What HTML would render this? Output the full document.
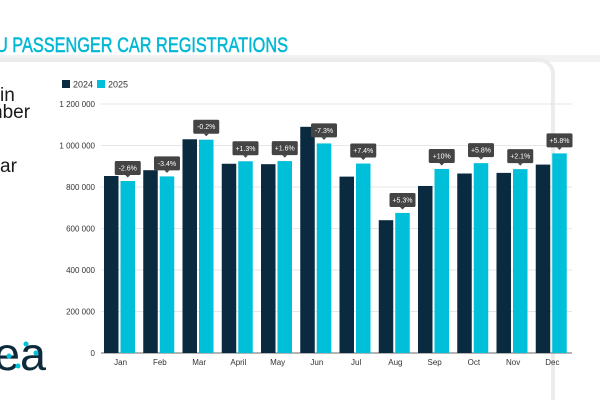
<!DOCTYPE html>
<html><head><meta charset="utf-8"><style>
html,body{margin:0;padding:0;width:600px;height:400px;overflow:hidden;background:#fff;font-family:"Liberation Sans",sans-serif}
svg{position:absolute;left:0;top:0}
</style></head><body>
<svg id="c" width="600" height="400">
<rect x="0" y="55" width="600" height="7" fill="#f2f2f2"/>
<rect x="-20" y="60" width="573" height="360" rx="14" fill="#fff" stroke="#ececec" stroke-width="4"/>
<text x="-4" y="52" font-size="21" fill="#00b8d4" stroke="#00b8d4" stroke-width="0.5" textLength="292" lengthAdjust="spacingAndGlyphs">U PASSENGER CAR REGISTRATIONS</text>
<text x="0" y="101" font-size="19" fill="#1a1a1a">in</text>
<text x="-8" y="118" font-size="19" fill="#1a1a1a">nber</text>
<text x="0" y="172" font-size="19" fill="#1a1a1a">ar</text>
<g>
<text x="-6" y="370" font-size="46" fill="#0d2a3d" textLength="52" lengthAdjust="spacingAndGlyphs">ea</text>
<circle cx="9" cy="356" r="2.5" fill="#00c2dd"/><circle cx="18" cy="366" r="2.5" fill="#00c2dd"/>
<circle cx="26" cy="344" r="2.5" fill="#00c2dd"/><circle cx="36" cy="353" r="2.5" fill="#00c2dd"/>
</g>
<rect x="62" y="80" width="8" height="8" fill="#0a2a3f"/>
<text x="73" y="87.5" font-size="9" fill="#333">2024</text>
<rect x="97" y="80" width="8" height="8" fill="#00bfd8"/>
<text x="108" y="87.5" font-size="9" fill="#333">2025</text>
<g id="grid"></g><g id="bars"></g><g id="labels"></g>
</svg>
<script>
const months=["Jan","Feb","Mar","April","May","Jun","Jul","Aug","Sep","Oct","Nov","Dec"];
const v2024=[853000,881000,1030000,912000,910000,1090000,850000,640000,805000,865000,868000,908000];
const v2025=[829000,851000,1028000,924000,925000,1010000,913000,675000,887000,915000,886000,962000];
const changes=["-2.6%","-3.4%","-0.2%","+1.3%","+1.6%","-7.3%","+7.4%","+5.3%","+10%","+5.8%","+2.1%","+5.8%"];
const ticks=[0,200000,400000,600000,800000,1000000,1200000];
const tickLabels=["0","200 000","400 000","600 000","800 000","1 000 000","1 200 000"];
const NS="http://www.w3.org/2000/svg";
const x0=101,x1=572,y0=353,y1=104,maxV=1200000;
const y=v=>y0-(v/maxV)*(y0-y1);
const gw=(x1-x0)/12;
const bx=i=>x0+i*gw;
function mk(t,a,p){const e=document.createElementNS(NS,t);for(const k in a)e.setAttribute(k,a[k]);p.appendChild(e);return e;}
const G=document.getElementById('grid'),B=document.getElementById('bars'),L=document.getElementById('labels');
ticks.forEach((t,i)=>{
 if(t>0){const l=mk('line',{x1:x0,x2:x1,y1:y(t),y2:y(t),stroke:'#e6e6e6','stroke-width':1},G);
 
 }
 const tx=mk('text',{x:95,y:y(t)+3,'font-size':8,'text-anchor':'end',fill:'#333'},G);
 tx.textContent=tickLabels[i];
 
 
});
const ax=mk('line',{x1:x0,x2:x1,y1:y0,y2:y0,stroke:'#888','stroke-width':1.2},G);


months.forEach((m,i)=>{
 const s=bx(i)+3;
 const a=mk('rect',{x:s,y:y(v2024[i]),width:14.5,height:y0-y(v2024[i]),fill:'#0a2a3f'},B);
 
 
 const b=mk('rect',{x:s+16.5,y:y(v2025[i]),width:14.5,height:y0-y(v2025[i]),fill:'#00bfd8'},B);
 
 
 const ml=mk('text',{x:bx(i)+gw/2,y:365,'font-size':8,'text-anchor':'middle',fill:'#333'},L);
 ml.textContent=m;
 
 
 const cx=s+16.5+7.25,ty=y(v2025[i])-6;
 const g=mk('g',{},L);
 
 
 mk('rect',{x:cx-13,y:ty-14,width:26,height:14,rx:1.5,fill:'#444'},g);
 mk('path',{d:`M${cx-2.5} ${ty} L${cx} ${ty+2.5} L${cx+2.5} ${ty}Z`,fill:'#444'},g);
 const t=mk('text',{x:cx,y:ty-4.5,'font-size':7,'text-anchor':'middle',fill:'#fff'},g);
 t.textContent=changes[i];
});
</script>
</body></html>
